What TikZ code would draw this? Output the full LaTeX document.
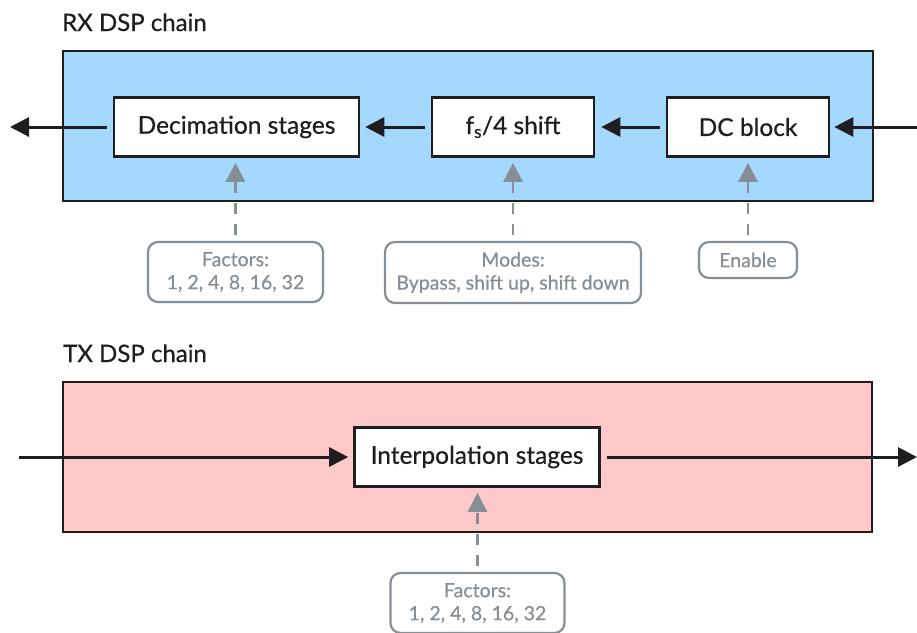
\documentclass[tikz,border=0pt]{standalone}
\usepackage{fontspec}
\setmainfont{Lato}
\newfontfamily\stagefont{Lato}[FakeBold=0.6]
\usetikzlibrary{arrows.meta}
\definecolor{rxfill}{HTML}{A5D8FF}
\definecolor{txfill}{HTML}{FFC9C9}
\definecolor{ink}{HTML}{1E1E1E}
\definecolor{muted}{HTML}{868E96}
\begin{document}
\begin{tikzpicture}[x=1pt,y=-1pt,
  chainbox/.style={draw=ink, line width=2.4pt, inner sep=0},
  stage/.style={draw=ink, fill=white, line width=2.6pt, inner sep=0, minimum height=59pt,
    font=\stagefont\fontsize{24.5}{28}\selectfont, text=ink},
  param/.style={draw=muted, rounded corners=10pt, line width=2.2pt, inner sep=0, align=center,
    font=\stagefont\fontsize{19.5}{23}\selectfont, text=muted, fill=white},
  flow/.style={draw=ink, line width=3pt, -{Triangle[length=19pt,width=19pt]}},
  ctrl/.style={draw=muted, line width=2.6pt, dash pattern=on 11pt off 10pt,
    -{Triangle[length=19pt,width=19pt]}},
  title/.style={anchor=base west, font=\stagefont\fontsize{24}{28}\selectfont, text=ink, inner sep=0}]
\useasboundingbox (0,0) rectangle (917,632);

% ---------- receive path ----------
\node[title] (rxtitle) at (62,31) {RX DSP chain};
\node[chainbox, fill=rxfill, minimum width=810pt, minimum height=150pt] (rx) at (468,126) {};
\node[stage, minimum width=245pt] (dec) at (236.5,127) {Decimation stages};
\node[stage, minimum width=162pt] (fs) at (513,127) {f\textsubscript{s}/4 shift};
\node[stage, minimum width=162pt] (dc) at (748,127) {DC block};

\coordinate (rxin) at (917,127);
\coordinate (rxout) at (10,127);
\draw[flow, shorten >=4pt] (rxin) -- (dc.east);
\draw[flow, shorten <=6pt, shorten >=6pt] (dc.west) -- (fs.east);
\draw[flow, shorten <=6pt, shorten >=5pt] (fs.west) -- (dec.east);
\draw[flow, shorten <=6pt] (dec.west) -- (rxout);

\node[param, minimum width=175pt, minimum height=60pt] (decf) at (235.5,272) {Factors:\\1, 2, 4, 8, 16, 32};
\node[param, minimum width=256pt, minimum height=61pt] (modes) at (513,272.5) {Modes:\\Bypass, shift up, shift down};
\node[param, minimum width=98pt, minimum height=36pt] (enable) at (748,260) {Enable};

\draw[ctrl, shorten <=6pt, shorten >=5pt] (decf.north) -- (decf.north |- dec.south);
\draw[ctrl, shorten <=6pt, shorten >=5pt] (modes.north) -- (modes.north |- fs.south);
\draw[ctrl, shorten <=6pt, shorten >=5pt] (enable.north) -- (enable.north |- dc.south);

% ---------- transmit path ----------
\node[title] (txtitle) at (63,362) {TX DSP chain};
\node[chainbox, fill=txfill, minimum width=809pt, minimum height=150pt] (tx) at (467.5,457) {};
\node[stage, minimum width=245pt] (interp) at (477,457) {Interpolation stages};

\coordinate (txin) at (19,457);
\coordinate (txout) at (917,457);
\draw[flow, shorten >=5pt] (txin) -- (interp.west);
\draw[flow, shorten <=6pt] (interp.east) -- (txout);

\node[param, minimum width=174pt, minimum height=60pt] (intf) at (477.5,603) {Factors:\\1, 2, 4, 8, 16, 32};
\draw[ctrl, shorten <=6pt, shorten >=5pt] (intf.north) -- (intf.north |- interp.south);
\end{tikzpicture}
\end{document}
